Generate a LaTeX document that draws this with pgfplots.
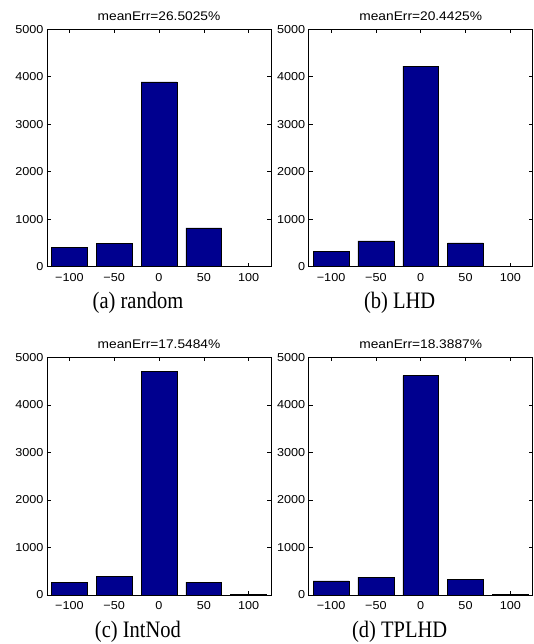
\documentclass[border=0pt]{standalone}
\usepackage{fontspec}
\setmainfont{Liberation Serif}
\setsansfont[FakeStretch=1.1]{Liberation Sans}
\usepackage{graphicx}
\usepackage{pgfplots}
\pgfplotsset{compat=1.18}
\definecolor{barblue}{RGB}{0,0,143}
\pgfplotsset{
  every axis title/.style={font=\fontsize{12.5}{14}\selectfont\sffamily, at={(0.5,1)}, anchor=base, yshift=9pt},
  every axis x label/.style={font=\fontsize{20.5}{24}\selectfont\rmfamily, at={(0.406,0)}, anchor=base, yshift=-42pt},
  hist/.style={
    scale only axis, width=224pt, height=237.5pt,
    xmin=-125, xmax=125, ymin=0, ymax=5000,
    xtick={-100,-50,0,50,100},
    xticklabels={−100,−50,0,50,100},
    ytick={0,1000,2000,3000,4000,5000},
    yticklabels={0,1000,2000,3000,4000,5000},
    tick align=inside, major tick length=4pt,
    axis line style={line width=0.6pt},
    tick style={black, line width=0.5pt},
    ticklabel style={font=\fontsize{11.5}{13}\selectfont\sffamily},
    xticklabel style={anchor=base, yshift=-14.5pt},
  },
  histbar/.style={ybar, bar width=40, fill=barblue, draw=black, line width=0.5pt},
}
\newcommand{\subcap}[1]{\scalebox{1}[1.15]{#1}}
\begin{document}
\begin{tikzpicture}
\useasboundingbox (0,0) rectangle (534pt,644pt);
\begin{axis}[hist, at={(47pt,377.3pt)}, anchor=south west,
  title={meanErr=26.5025\%}, xlabel={\subcap{(a) random}}]
\addplot[histbar] coordinates {(-100,400) (-50,490) (0,3890) (50,815) (100,8)};
\end{axis}
\begin{axis}[hist, at={(308.7pt,377.3pt)}, anchor=south west,
  title={meanErr=20.4425\%}, xlabel={\subcap{(b) LHD}}]
\addplot[histbar] coordinates {(-100,330) (-50,545) (0,4220) (50,500) (100,8)};
\end{axis}
\begin{axis}[hist, at={(47pt,49pt)}, anchor=south west,
  title={meanErr=17.5484\%}, xlabel={\subcap{(c) IntNod}}]
\addplot[histbar] coordinates {(-100,265) (-50,395) (0,4700) (50,270) (100,8)};
\end{axis}
\begin{axis}[hist, at={(308.7pt,49pt)}, anchor=south west,
  title={meanErr=18.3887\%}, xlabel={\subcap{(d) TPLHD}}]
\addplot[histbar] coordinates {(-100,295) (-50,375) (0,4620) (50,335) (100,8)};
\end{axis}
\end{tikzpicture}
\end{document}
